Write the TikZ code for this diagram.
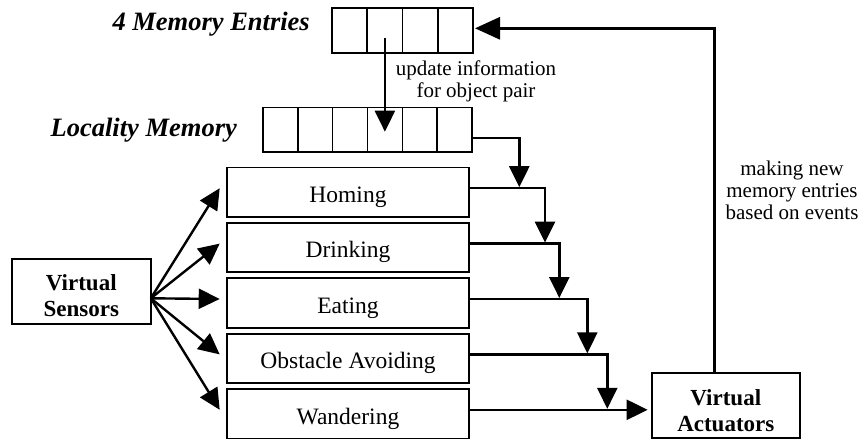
\documentclass[tikz,border=0pt]{standalone}
\usepackage{fontspec}
\setmainfont{Liberation Serif}
\usetikzlibrary{arrows.meta,calc}
\newcommand{\lowered}[2]{\raisebox{#1}[0pt][0pt]{#2}}
\newcommand{\stacked}[3]{\raisebox{#1}[0pt][0pt]{\vbox{\baselineskip=#2\lineskiplimit=-100pt\halign{\hfil##\hfil\cr#3\crcr}}}}
\begin{document}
\begin{tikzpicture}[x=1pt,y=-1pt,
  box/.style={draw,line width=1.8pt,inner sep=0pt,outer sep=0pt,minimum width=242.6pt,minimum height=49.4pt,font=\fontsize{23.5}{26}\selectfont},
  boldbox/.style={draw,line width=1.8pt,inner sep=0pt,outer sep=0pt,font=\fontsize{23}{26}\bfseries\selectfont},
  mem/.style={draw,line width=1.8pt,inner sep=0pt,outer sep=0pt,minimum height=44.5pt},
  cell/.style={line width=1.6pt},
  lbl/.style={inner sep=0pt,font=\fontsize{26.5}{28}\bfseries\itshape\selectfont},
  note/.style={inner sep=0pt,font=\fontsize{21}{22}\selectfont},
  arr/.style={line width=2.4pt,-{Triangle[length=21pt,width=20pt]}},
  fb/.style={line width=3pt,-{Triangle[length=25pt,width=22pt]}}
]
\useasboundingbox (0,0) rectangle (865,439);

% memories
\node[mem,minimum width=141pt] (me) at (402.5,30.5) {};
\node[mem,minimum width=209pt] (lm) at (367.5,129.7) {};
\foreach \i in {1,2,3}
  \draw[cell] ($(me.north west)!\i/4!(me.north east)$) -- ($(me.south west)!\i/4!(me.south east)$);
\foreach \i in {1,...,5}
  \draw[cell] ($(lm.north west)!\i/6!(lm.north east)$) -- ($(lm.south west)!\i/6!(lm.south east)$);

\node[lbl,anchor=base east] (lblme) at (310,30) {4 Memory Entries};
\node[lbl,anchor=base east] (lbllm) at (237,136) {Locality Memory};

% behaviours
\node[box] (hom) at (348,192.2) {\lowered{-10.3pt}{Homing}};
\node[box] (dri) at (348,247.6) {\lowered{-10.3pt}{Drinking}};
\node[box] (eat) at (348,303.0) {\lowered{-10.3pt}{Eating}};
\node[box] (obs) at (348,358.4) {\lowered{-10.3pt}{Obstacle Avoiding}};
\node[box] (wan) at (348,413.8) {\lowered{-10.3pt}{Wandering}};

\node[boldbox,minimum width=139pt,minimum height=65pt] (vs) at (81.3,291.7) {\stacked{-25pt}{26pt}{Virtual\cr Sensors}};
\node[boldbox,minimum width=148.3pt,minimum height=65pt] (va) at (725.8,405.8) {\stacked{-26pt}{26pt}{Virtual\cr Actuators}};

% notes
\node[note] (upd) at (476,97) {\stacked{0pt}{22pt}{update information\cr for object pair}};
\node[note] (mk) at (792,219) {\stacked{0pt}{22pt}{making new\cr memory entries\cr based on events}};

% connectors
\draw[arr] ($(me.center)+(-17.6,7.8)$) -- ($(lm.center)+(17.4,2)$);
\foreach \b in {hom,dri,eat,obs,wan}
  \draw[arr] ($(vs.east)+(0,6.6)$) -- ($(\b.west)+(-7,-4)$);

\draw[arr] ($(lm.east)+(0,8)$) -| ($(hom.east)+(50,-5)$);
\draw[arr] ($(hom.east)+(0,-4)$) -| ($(dri.east)+(75.7,-5)$);
\draw[arr] ($(dri.east)+(0,-4)$) -| ($(eat.east)+(90,-5)$);
\draw[arr] ($(eat.east)+(0,-4)$) -| ($(obs.east)+(118,-5)$);
\draw[arr] ($(obs.east)+(0,-4)$) -| ($(wan.east)+(138,-5)$);
\draw[arr] ($(wan.east)+(0,-4)$) -- ($(va.west)+(-4,4)$);

\draw[fb] ($(va.north)+(-11.8,0)$) |- ($(me.east)+(2,-2.2)$);
\end{tikzpicture}
\end{document}
